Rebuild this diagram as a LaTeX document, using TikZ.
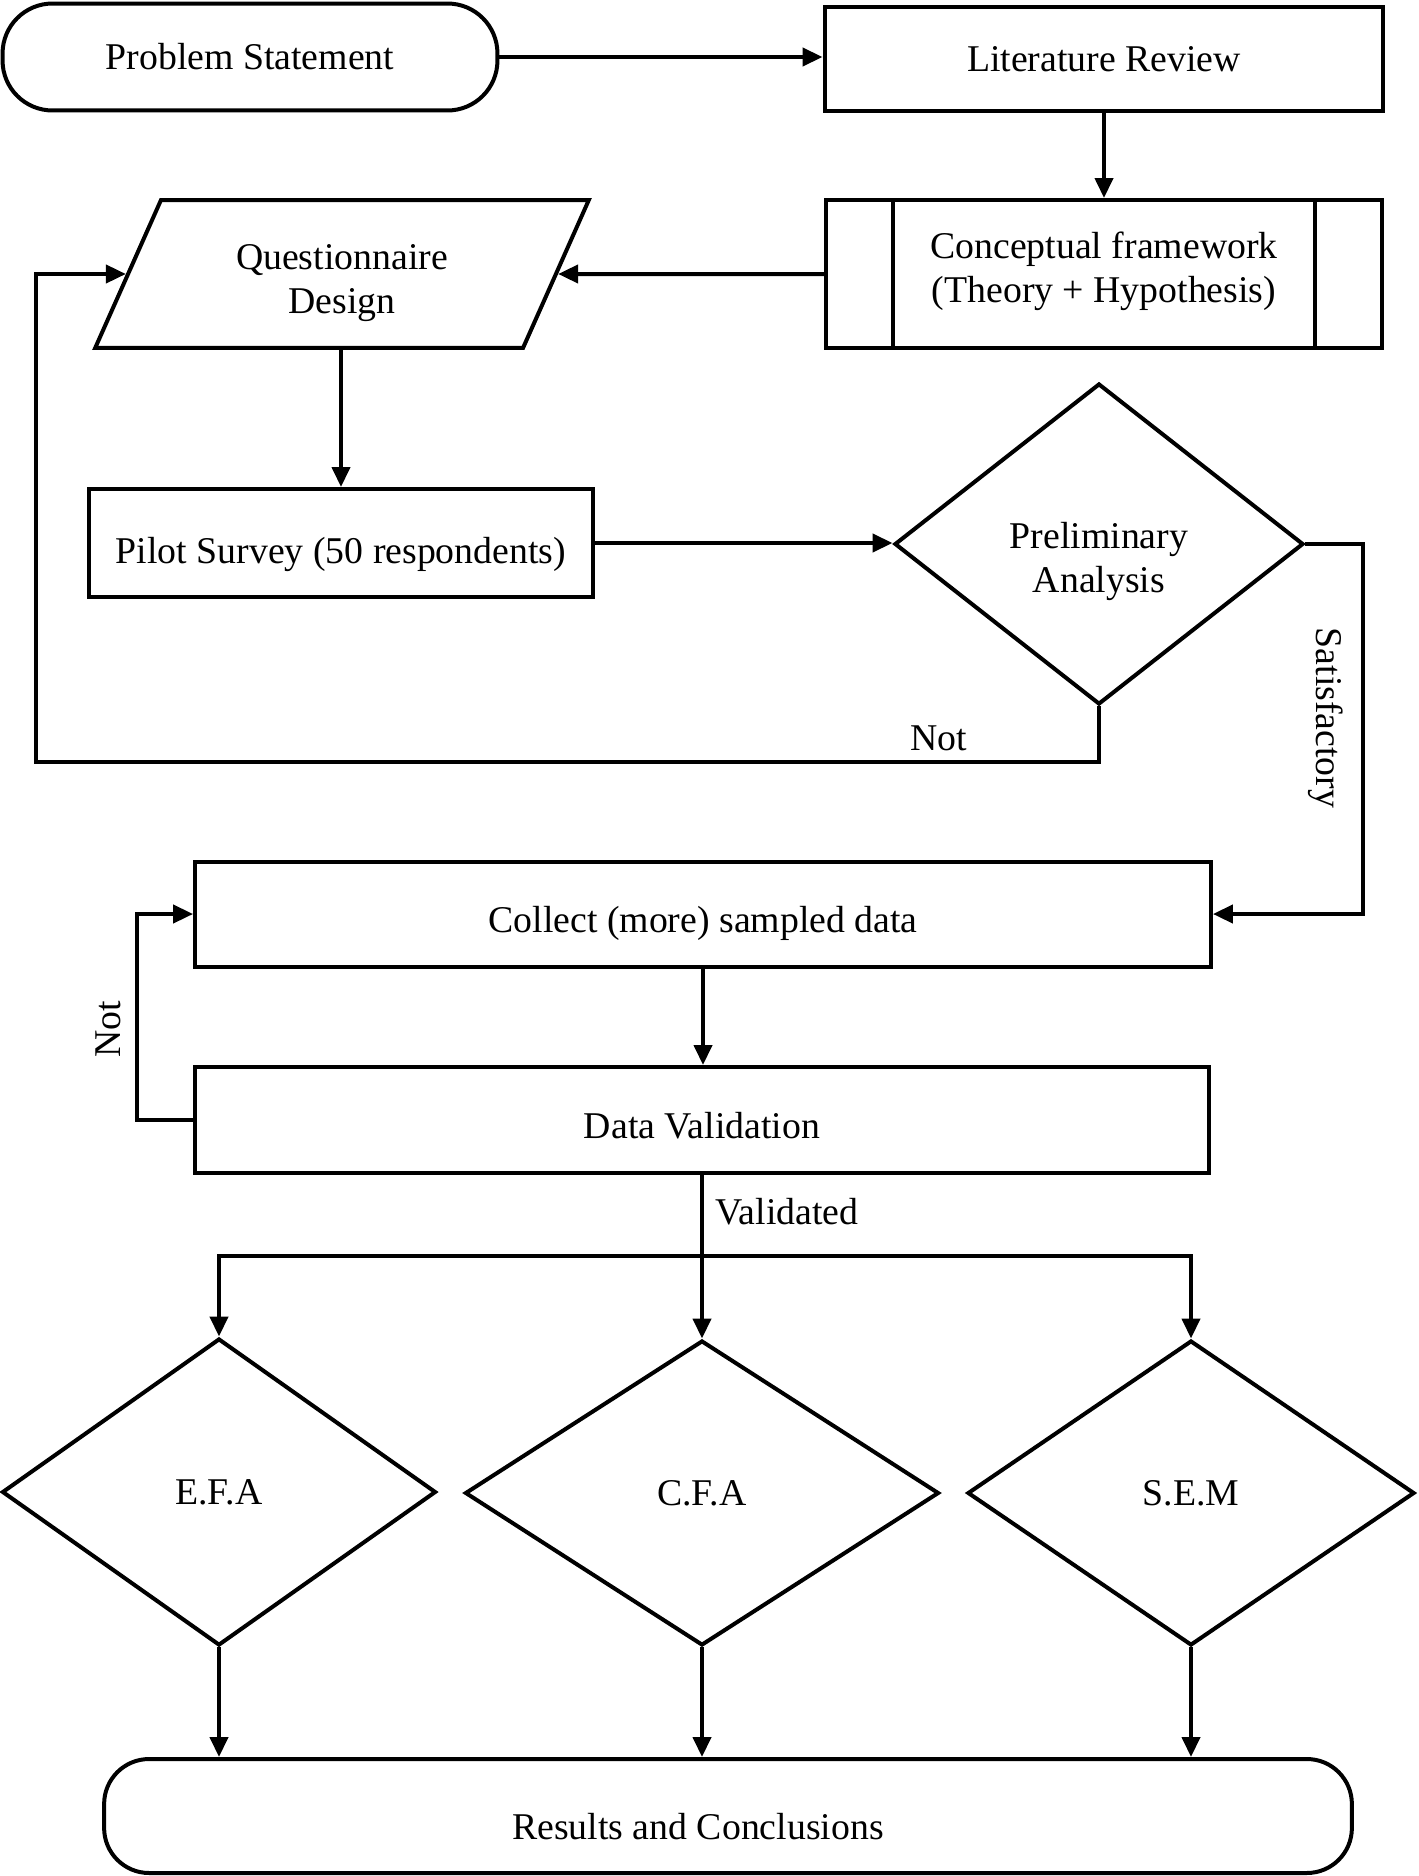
\documentclass[tikz,border=0pt]{standalone}
\usepackage{fontspec}
\setmainfont{Liberation Serif}
\usetikzlibrary{shapes.geometric,arrows.meta,calc}

\begin{document}
\begin{tikzpicture}[x=0.02cm,y=-0.02cm]
\path [use as bounding box] (0,0) rectangle (1418,1876);
\tikzstyle{every node} = [font=\fontsize{21.5}{25}\selectfont, align=center, line width=0.08cm]
\tikzstyle{box} = [draw, rectangle, inner sep=0pt]
\tikzstyle{term} = [box, rounded corners=1cm]
\tikzstyle{decide} = [draw, diamond, inner sep=0pt]
\tikzstyle{io} = [draw, trapezium, trapezium left angle=66, trapezium right angle=114, inner ysep=0pt]
\tikzstyle{flow} = [line width=0.08cm, -{Triangle[length=0.4cm,width=0.36cm]}]
\tikzstyle{lbl} = [font=\fontsize{21.5}{25}\selectfont]
% top row
\node[term, minimum width=9.9cm, minimum height=2.14cm] (P) at (250,57) {Problem Statement};
\node[box, minimum width=11.18cm, minimum height=2.1cm] (L) at (1104,59) {Literature Review};
\node[box, minimum width=11.12cm, minimum height=2.96cm, label={[yshift=0.06cm]center:Conceptual framework\\(Theory + Hypothesis)}] (C) at (1104,274) {};
\draw[line width=0.08cm] ($(C.north west)+(69,0)$) -- ($(C.south west)+(69,0)$);
\draw[line width=0.08cm] ($(C.north east)+(-69,0)$) -- ($(C.south east)+(-69,0)$);
\node[io, inner xsep=-0.2cm, minimum width=9.2cm, minimum height=2.96cm, text height=44.6pt, text depth=0pt] (Q) at (342,274) {Questionnaire\\Design};
\node[box, minimum width=10.1cm, minimum height=2.16cm, label={[yshift=-0.22cm]center:Pilot Survey (50 respondents)}] (S) at (341,543) {};
\node[decide, minimum width=8.18cm, minimum height=6.42cm, label={[yshift=-0.35cm]center:Preliminary\\Analysis}] (A) at (1099,544) {};
% data collection
\node[box, minimum width=20.32cm, minimum height=2.1cm, label={[yshift=-0.19cm]center:Collect (more) sampled data}] (D) at (703,914) {};
\node[box, minimum width=20.28cm, minimum height=2.12cm, label={[yshift=-0.12cm]center:Data Validation}] (V) at (702,1120) {};
% analyses
\node[decide, minimum width=8.68cm, minimum height=6.14cm] (E) at (219,1492) {E.F.A};
\node[decide, minimum width=9.48cm, minimum height=6.1cm] (F) at (702,1493) {C.F.A};
\node[decide, minimum width=8.94cm, minimum height=6.1cm] (M) at (1191,1493) {S.E.M};
\node[term, rounded corners=0.9cm, minimum width=24.96cm, minimum height=2.28cm, label={[xshift=-0.6cm, yshift=-0.22cm]center:Results and Conclusions}] (R) at (728,1816) {};
\coordinate (N) at (36,762);
\coordinate (B) at ($(V.south)+(0,81)$);
\draw[flow] (P.east) -- (P.east -| L.west);
\draw[flow] (L) -- (C);
\draw[flow] (C) -- (Q);
\draw[flow] (Q.south -| S.north) -- (S.north);
\draw[flow] (S.east) -- (S.east -| A.west);
\draw[flow] (A.south) |- (N) |- (Q.left side);
\node[lbl] at (939,738) {Not};
\draw[flow] (A.east) -- ++(58,0) |- (D.east);
\node[lbl, rotate=-90] at (1326,718) {Satisfactory};
\draw[flow] (D.south) -- (D.south |- V.north);
\draw[flow] (V.west) -- ++(-56,0) |- (D.west);
\node[lbl, rotate=90] at (108,1029) {Not};
\draw[flow] (V.south) -- (V.south |- F.north);
\draw[flow] (B) -| (E.north);
\draw[flow] (B) -| (M.north);
\node[lbl] at (787,1212) {Validated};
\draw[flow] (E.south) -- (E.south |- R.north);
\draw[flow] (F.south) -- (F.south |- R.north);
\draw[flow] (M.south) -- (M.south |- R.north);
\end{tikzpicture}
\end{document}
